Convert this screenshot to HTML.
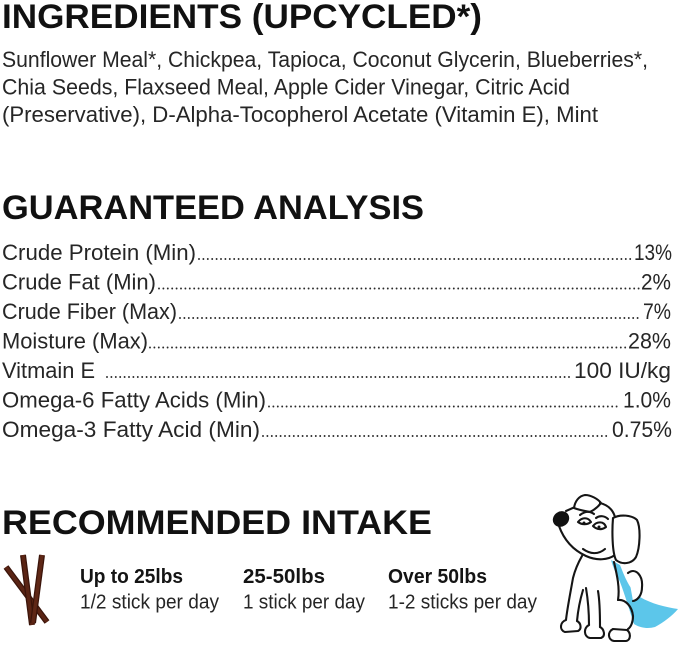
<!DOCTYPE html>
<html>
<head>
<meta charset="utf-8">
<style>
html,body{margin:0;padding:0;background:#fff;}
svg{display:block;}
text{font-family:"Liberation Sans",Arial,sans-serif;}
.h{font-weight:700;font-size:34px;fill:#111;}
.b{font-weight:400;font-size:22px;fill:#262626;}
.bb{font-weight:700;font-size:20px;fill:#141414;}
.br{font-weight:400;font-size:20.5px;fill:#262626;}
.dots{stroke:#2a2a2a;stroke-width:1.9;stroke-linecap:round;stroke-dasharray:0 4.4;fill:none;}
.o{fill:none;stroke:#151515;stroke-width:2.1;stroke-linecap:round;stroke-linejoin:round;}
.ow{fill:#fff;stroke:#151515;stroke-width:2.1;stroke-linecap:round;stroke-linejoin:round;}
</style>
</head>
<body>
<svg width="679" height="647" viewBox="0 0 679 647" xmlns="http://www.w3.org/2000/svg">
<rect width="679" height="647" fill="#fff"/>

<!-- INGREDIENTS -->
<text class="h" x="2" y="28" textLength="480" lengthAdjust="spacingAndGlyphs">INGREDIENTS (UPCYCLED*)</text>
<text class="b" x="2" y="67" textLength="646" lengthAdjust="spacingAndGlyphs">Sunflower Meal*, Chickpea, Tapioca, Coconut Glycerin, Blueberries*,</text>
<text class="b" x="2" y="94.5" textLength="568" lengthAdjust="spacingAndGlyphs">Chia Seeds, Flaxseed Meal, Apple Cider Vinegar, Citric Acid</text>
<text class="b" x="2" y="122" textLength="596" lengthAdjust="spacingAndGlyphs">(Preservative), D-Alpha-Tocopherol Acetate (Vitamin E), Mint</text>

<!-- GUARANTEED ANALYSIS -->
<text class="h" x="2" y="219" textLength="422" lengthAdjust="spacingAndGlyphs">GUARANTEED ANALYSIS</text>

<text class="b" x="2" y="260" textLength="194" lengthAdjust="spacingAndGlyphs">Crude Protein (Min)</text>
<line class="dots" x1="199" y1="259" x2="632" y2="259"/>
<text class="b" x="634" y="260" textLength="38" lengthAdjust="spacingAndGlyphs">13%</text>

<text class="b" x="2" y="289.5" textLength="154" lengthAdjust="spacingAndGlyphs">Crude Fat (Min)</text>
<line class="dots" x1="159" y1="288.5" x2="639" y2="288.5"/>
<text class="b" x="641" y="289.5" textLength="30" lengthAdjust="spacingAndGlyphs">2%</text>

<text class="b" x="2" y="319" textLength="175" lengthAdjust="spacingAndGlyphs">Crude Fiber (Max)</text>
<line class="dots" x1="180" y1="318" x2="641" y2="318"/>
<text class="b" x="643" y="319" textLength="28" lengthAdjust="spacingAndGlyphs">7%</text>

<text class="b" x="2" y="348.5" textLength="146" lengthAdjust="spacingAndGlyphs">Moisture (Max)</text>
<line class="dots" x1="150" y1="347.5" x2="626" y2="347.5"/>
<text class="b" x="628" y="348.5" textLength="43" lengthAdjust="spacingAndGlyphs">28%</text>

<text class="b" x="2" y="378" textLength="93" lengthAdjust="spacingAndGlyphs">Vitmain E</text>
<line class="dots" x1="107" y1="377" x2="572" y2="377"/>
<text class="b" x="574" y="378" textLength="97" lengthAdjust="spacingAndGlyphs">100 IU/kg</text>

<text class="b" x="2" y="407.5" textLength="264" lengthAdjust="spacingAndGlyphs">Omega-6 Fatty Acids (Min)</text>
<line class="dots" x1="269" y1="406.5" x2="621" y2="406.5"/>
<text class="b" x="623" y="407.5" textLength="48" lengthAdjust="spacingAndGlyphs">1.0%</text>

<text class="b" x="2" y="437" textLength="258" lengthAdjust="spacingAndGlyphs">Omega-3 Fatty Acid (Min)</text>
<line class="dots" x1="263" y1="436" x2="610" y2="436"/>
<text class="b" x="612" y="437" textLength="60" lengthAdjust="spacingAndGlyphs">0.75%</text>

<!-- RECOMMENDED INTAKE -->
<text class="h" x="2" y="534" textLength="430" lengthAdjust="spacingAndGlyphs">RECOMMENDED INTAKE</text>

<text class="bb" x="80" y="583" textLength="103" lengthAdjust="spacingAndGlyphs">Up to 25lbs</text>
<text class="br" x="80" y="608.5" textLength="139" lengthAdjust="spacingAndGlyphs">1/2 stick per day</text>
<text class="bb" x="243" y="583" textLength="82" lengthAdjust="spacingAndGlyphs">25-50lbs</text>
<text class="br" x="243" y="608.5" textLength="122" lengthAdjust="spacingAndGlyphs">1 stick per day</text>
<text class="bb" x="388" y="583" textLength="99" lengthAdjust="spacingAndGlyphs">Over 50lbs</text>
<text class="br" x="388" y="608.5" textLength="149" lengthAdjust="spacingAndGlyphs">1-2 sticks per day</text>

<!-- Sticks -->
<g stroke-linecap="butt">
  <line x1="6" y1="567" x2="47" y2="622" stroke="#3a140a" stroke-width="6"/>
  <line x1="6" y1="567" x2="47" y2="622" stroke="#5a2414" stroke-width="3.5"/>
  <line x1="23" y1="555" x2="32" y2="625" stroke="#3a140a" stroke-width="6"/>
  <line x1="23" y1="555" x2="32" y2="625" stroke="#5a2414" stroke-width="3.5"/>
  <line x1="42" y1="555" x2="33" y2="623" stroke="#3a140a" stroke-width="6"/>
  <line x1="42" y1="555" x2="33" y2="623" stroke="#5e2716" stroke-width="3.5"/>
</g>

<!-- Dog -->
<g>
  <!-- cape -->
  <path d="M611,560 L620,565 C626,580 630,590 640,597 C652,604 665,607 678,609 C672,616 664,622 655,627 C648,629 640,628 634,624 C630,612 625,595 620,582 C616,574 613,567 611,560 Z" fill="#5cc6ea"/>
  <!-- tail -->
  <path class="ow" d="M628,573 C636,567 643,576 642,587 C642,595 638,600 633,601"/>
  <!-- body -->
  <path class="o" d="M582,556 C578,563 575,570 573,578 C570,595 567,610 566,620"/>
  <path class="ow" d="M566,620 C560,622 559,630 565,632 L578,631 C582,629 581,623 577,621"/>
  <path class="o" d="M577,621 C578,610 580,600 583,590"/>
  <path class="o" d="M586,588 C588,600 589,612 589,625"/>
  <path class="ow" d="M589,625 C583,628 584,637 590,638 L601,638 C606,636 604,629 600,627"/>
  <path class="o" d="M600,627 C600,615 600,602 598,591"/>
  <path class="o" d="M614,562 C617,575 620,588 618,600"/>
  <path class="o" d="M618,600 C625,599 632,606 633,616 C633,622 631,627 628,629"/>
  <path class="ow" d="M613,629 C607,632 608,640 614,641 L626,641 C631,640 631,633 627,630 Z"/>
  <!-- head -->
  <path class="o" d="M559,526 C564,540 573,550 586,556 C597,561 608,560 615,555"/>
  <path class="o" d="M566,511 L575,507"/>
  <path class="ow" d="M574,508 C575,501 579,496 585,495 C591,495 598,499 601,503 C598,507 594,510 590,512 C585,511 579,510 574,508 Z"/>
  <path class="o" d="M600,503 C608,505 613,510 615,517"/>
  <!-- right ear -->
  <path class="ow" d="M613,518 C620,514 632,515 637,520 C641,528 640,548 636,557 C632,564 622,565 616,560 C612,552 612,530 613,518 Z"/>
  <!-- nose -->
  <ellipse cx="561" cy="519" rx="8.5" ry="7.5" transform="rotate(-35 561 519)" fill="#111"/>
  <!-- eyes -->
  <path class="o" stroke-width="1.6" d="M580,515 C585,511 590,511 594,514"/>
  <path class="o" stroke-width="1.6" d="M596,518 C600,515 605,516 608,519"/>
  <path class="o" stroke-width="1.6" d="M578,522 C582,517 588,517 591,522 C587,525 582,525 578,522"/>
  <path class="o" stroke-width="1.6" d="M593,526 C597,521 604,521 606,527 C602,530 597,530 593,526"/>
  <circle cx="584" cy="523" r="1.5" fill="#111"/>
  <circle cx="599" cy="527" r="1.5" fill="#111"/>
  <!-- smile -->
  <path class="o" d="M583,549 C590,554 598,555 605,549"/>
</g>
</svg>
</body>
</html>
